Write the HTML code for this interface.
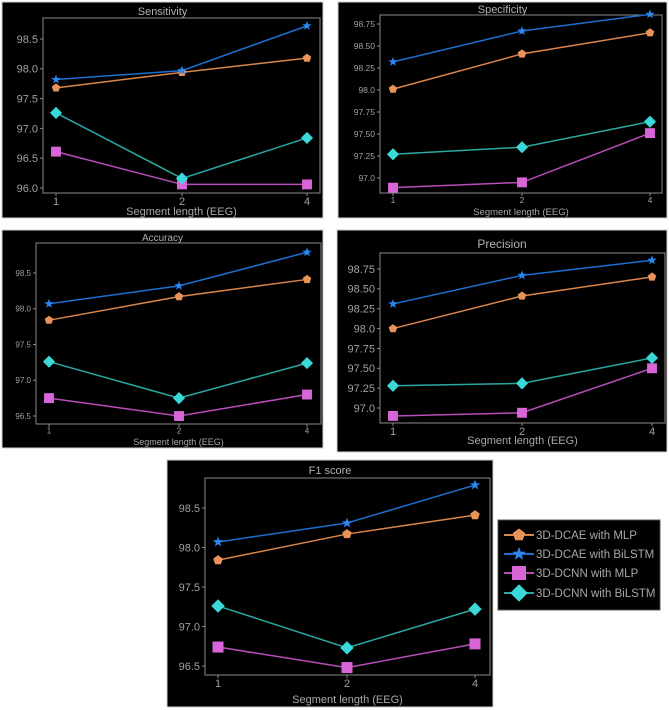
<!DOCTYPE html>
<html><head><meta charset="utf-8"><style>
html,body{margin:0;padding:0;background:#fff;}
svg{display:block;font-family:"Liberation Sans",sans-serif;}
</style></head><body>
<svg id="fig" width="669" height="710" viewBox="0 0 669 710"></svg>
<script>
const categories = ["1","2","4"];
const seriesNames = ["3D-DCAE with MLP","3D-DCAE with BiLSTM","3D-DCNN with MLP","3D-DCNN with BiLSTM"];

const sensDcaeMlp = [97.68, 97.94, 98.18];
const sensDcaeBilstm = [97.82, 97.97, 98.72];
const sensDcnnMlp = [96.61, 96.06, 96.06];
const sensDcnnBilstm = [97.26, 96.16, 96.84];
const sensTicks = ["96.0","96.5","97.0","97.5","98.0","98.5"];

const specDcaeMlp = [98.01, 98.41, 98.65];
const specDcaeBilstm = [98.32, 98.67, 98.86];
const specDcnnMlp = [96.89, 96.95, 97.51];
const specDcnnBilstm = [97.27, 97.35, 97.64];
const specTicks = ["97.0","97.25","97.50","97.75","98.0","98.25","98.50","98.75"];

const accDcaeMlp = [97.84, 98.17, 98.41];
const accDcaeBilstm = [98.07, 98.32, 98.79];
const accDcnnMlp = [96.75, 96.50, 96.80];
const accDcnnBilstm = [97.26, 96.75, 97.24];
const accTicks = ["96.5","97.0","97.5","98.0","98.5"];

const precDcaeMlp = [98.00, 98.41, 98.65];
const precDcaeBilstm = [98.31, 98.67, 98.86];
const precDcnnMlp = [96.90, 96.94, 97.50];
const precDcnnBilstm = [97.28, 97.31, 97.63];
const precTicks = ["97.0","97.25","97.50","97.75","98.0","98.25","98.50","98.75"];

const f1DcaeMlp = [97.84, 98.17, 98.41];
const f1DcaeBilstm = [98.07, 98.31, 98.79];
const f1DcnnMlp = [96.74, 96.48, 96.78];
const f1DcnnBilstm = [97.26, 96.73, 97.22];
const f1Ticks = ["96.5","97.0","97.5","98.0","98.5"];

const NS = "http://www.w3.org/2000/svg";
const svg = document.getElementById("fig");
function mk(tag, attrs, parent){ const e=document.createElementNS(NS,tag); for(const k in attrs) e.setAttribute(k,attrs[k]); (parent||svg).appendChild(e); return e; }

const lineColors = ["#d9864a","#1f6fd0","#b84db8","#2aa9a2"];
const fillColors = ["#e8935a","#2a86f0","#d966d9","#3ad8d8"];

function marker(g, kind, x, y, s){
  let el;
  if(kind===0){ let p=[]; for(let i=0;i<5;i++){const a=-Math.PI/2+i*2*Math.PI/5;p.push((x+s*Math.cos(a)).toFixed(1)+","+(y+s*Math.sin(a)).toFixed(1));} el=mk("polygon",{points:p.join(" "),fill:fillColors[0]},g); }
  else if(kind===1){ let p=[]; for(let i=0;i<10;i++){const a=-Math.PI/2+i*Math.PI/5;const r=i%2?s*0.45:s*1.1;p.push((x+r*Math.cos(a)).toFixed(1)+","+(y+r*Math.sin(a)).toFixed(1));} el=mk("polygon",{points:p.join(" "),fill:fillColors[1]},g); }
  else if(kind===2){ el=mk("rect",{x:x-s,y:y-s,width:2*s,height:2*s,fill:fillColors[2]},g); }
  else { const r=s*1.35; el=mk("polygon",{points:`${x},${y-r} ${x+r},${y} ${x},${y+r} ${x-r},${y}`,fill:fillColors[3]},g); }
  return el;
}

function panel(cfg){
  const g = mk("g",{});
  
  
  mk("rect",{x:cfg.box[0],y:cfg.box[1],width:cfg.box[2]-cfg.box[0],height:cfg.box[3]-cfg.box[1],fill:"#000",stroke:"#cfcfcf","stroke-width":1},g);
  const [L,T,R,B]=cfg.plot;
  const yS = v => cfg.y1px + (v-cfg.y1)*(cfg.y2px-cfg.y1px)/(cfg.y2-cfg.y1);
  const xPos = i => cfg.xpx[i];
  mk("rect",{x:L,y:T,width:R-L,height:B-T,fill:"none",stroke:"#8a8a8a","stroke-width":1},g);
  const t = mk("text",{x:(cfg.box[0]+cfg.box[2])/2,y:cfg.titleY,"text-anchor":"middle",fill:"#b0b0b0","font-size":cfg.titleFs},g);
  t.textContent = cfg.title;
  
  
  cfg.ticks.forEach(lab=>{
    const y=yS(parseFloat(lab));
    mk("line",{x1:L-3,x2:L,y1:y,y2:y,stroke:"#8a8a8a"},g);
    const tt=mk("text",{x:L-5,y:y+cfg.tickFs*0.35,"text-anchor":"end",fill:"#a0a0a0","font-size":cfg.tickFs},g);
    tt.textContent=lab;
    
    
  });
  categories.forEach((c,i)=>{
    const x=xPos(i);
    mk("line",{x1:x,x2:x,y1:B,y2:B+3,stroke:"#8a8a8a"},g);
    const tt=mk("text",{x:x,y:B+3+cfg.tickFs*0.8,"text-anchor":"middle",fill:"#a0a0a0","font-size":cfg.tickFs},g);
    tt.textContent=c;
    
    
  });
  const xl=mk("text",{x:(L+R)/2,y:cfg.xlabY,"text-anchor":"middle",fill:"#a8a8a8","font-size":cfg.xlabFs},g);
  xl.textContent="Segment length (EEG)";
  
  
  cfg.series.forEach((vals,si)=>{
    const pts = vals.map((v,i)=>xPos(i)+","+yS(v)).join(" ");
    const pl=mk("polyline",{points:pts,fill:"none",stroke:lineColors[si],"stroke-width":1.5},g);
    
    
    vals.forEach((v,i)=>{
      const m=marker(g,si,xPos(i),yS(v),si===2?cfg.ms*1.1:cfg.ms);
      
      
    });
  });
}

panel({name:"sensitivity-chart",title:"Sensitivity",box:[2,2,323,218],plot:[43,18,320,193],titleY:15,titleFs:11,tickFs:11,xlabY:215,xlabFs:11,
  y1:98.5,y1px:39,y2:96.0,y2px:188,xpx:[56,182,307],ticks:sensTicks,ms:4.5,
  series:[sensDcaeMlp,sensDcaeBilstm,sensDcnnMlp,sensDcnnBilstm]});
panel({name:"specificity-chart",title:"Specificity",box:[338,2,667,218],plot:[380,15,662,193],titleY:13,titleFs:11,tickFs:8.5,xlabY:215,xlabFs:9.5,
  y1:98.75,y1px:24,y2:97.0,y2px:178,xpx:[393,522,650],ticks:specTicks,ms:4.5,
  series:[specDcaeMlp,specDcaeBilstm,specDcnnMlp,specDcnnBilstm]});
panel({name:"accuracy-chart",title:"Accuracy",box:[2,230,323,448],plot:[36,243,321,424],titleY:241,titleFs:10,tickFs:8,xlabY:445,xlabFs:9,
  y1:98.5,y1px:273,y2:96.5,y2px:416,xpx:[49,179,307],ticks:accTicks,ms:4.5,
  series:[accDcaeMlp,accDcaeBilstm,accDcnnMlp,accDcnnBilstm]});
panel({name:"precision-chart",title:"Precision",box:[337,230,667,452],plot:[380,253,665,423],titleY:248,titleFs:12,tickFs:11,xlabY:444,xlabFs:11,
  y1:98.75,y1px:269,y2:97.0,y2px:408,xpx:[393,522,652],ticks:precTicks,ms:4.5,
  series:[precDcaeMlp,precDcaeBilstm,precDcnnMlp,precDcnnBilstm]});
panel({name:"f1-score-chart",title:"F1 score",box:[167,460,493,707],plot:[205,478,490,675],titleY:474,titleFs:11,tickFs:11,xlabY:703,xlabFs:11,
  y1:98.5,y1px:508,y2:96.5,y2px:666,xpx:[218,347,475],ticks:f1Ticks,ms:5,
  series:[f1DcaeMlp,f1DcaeBilstm,f1DcnnMlp,f1DcnnBilstm]});

// legend
const lg = mk("g",{});


mk("rect",{x:498,y:520,width:162,height:90,fill:"#000",stroke:"#555"},lg);
const legY=[535,554,573,593];
seriesNames.forEach((n,i)=>{
  const e=mk("g",{},lg);
  
  
  mk("line",{x1:504,x2:534,y1:legY[i],y2:legY[i],stroke:lineColors[i],"stroke-width":2},e);
  marker(e,i,519,legY[i],i===2?7:6.5);
  const t=mk("text",{x:536,y:legY[i]+4,fill:"#a8a8a8","font-size":11.5},e);
  t.textContent=n;
});
</script>
</body></html>
